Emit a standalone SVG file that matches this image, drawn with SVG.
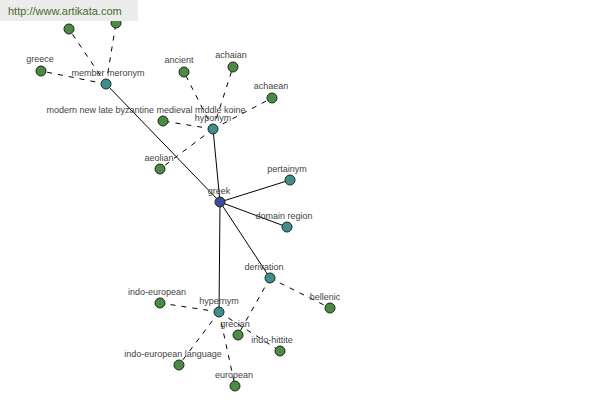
<svg xmlns="http://www.w3.org/2000/svg" width="600" height="400" viewBox="0 0 600 400">
<style>
.e{stroke:#000;stroke-width:1;fill:none}
.d{stroke:#000;stroke-width:1;fill:none;stroke-dasharray:5,6}
.n circle{stroke:#1a2a1a;stroke-width:1}
.g circle{fill:#4d8a45}
.t circle{fill:#3f8d8d}
.r circle{fill:#3c4c96}
text{font-family:"Liberation Sans",Arial,sans-serif;font-size:9px;fill:#444;text-anchor:middle}
</style>
<rect width="600" height="400" fill="#fff"/>
<g id="connectors">
<line class="e" x1="220" y1="202" x2="106" y2="84"/>
<line class="e" x1="220" y1="202" x2="213" y2="129"/>
<line class="e" x1="220" y1="202" x2="290" y2="180"/>
<line class="e" x1="220" y1="202" x2="287" y2="227"/>
<line class="e" x1="220" y1="202" x2="270" y2="278"/>
<line class="e" x1="220" y1="202" x2="219" y2="312"/>
<line class="d" x1="106" y1="84" x2="69" y2="29"/>
<line class="d" x1="106" y1="84" x2="116" y2="23"/>
<line class="d" x1="106" y1="84" x2="41" y2="71"/>
<line class="d" x1="213" y1="129" x2="184" y2="72"/>
<line class="d" x1="213" y1="129" x2="233" y2="67"/>
<line class="d" x1="213" y1="129" x2="272" y2="98"/>
<line class="d" x1="213" y1="129" x2="163" y2="121"/>
<line class="d" x1="213" y1="129" x2="160" y2="169"/>
<line class="d" x1="270" y1="278" x2="330" y2="308"/>
<line class="d" x1="270" y1="278" x2="238" y2="335"/>
<line class="d" x1="219" y1="312" x2="160" y2="303"/>
<line class="d" x1="219" y1="312" x2="280" y2="351"/>
<line class="d" x1="219" y1="312" x2="179" y2="365"/>
<line class="d" x1="219" y1="312" x2="235" y2="386"/>
</g>
<g id="n1" class="n g"><circle cx="69" cy="29" r="5"/></g>
<g id="n2" class="n g"><circle cx="116" cy="23" r="5"/></g>
<g id="greece" class="n g"><circle cx="41" cy="71" r="5"/><text x="40" y="62">greece</text></g>
<g id="ancient" class="n g"><circle cx="184" cy="72" r="5"/><text x="179" y="63">ancient</text></g>
<g id="achaian" class="n g"><circle cx="233" cy="67" r="5"/><text x="231" y="58">achaian</text></g>
<g id="achaean" class="n g"><circle cx="272" cy="98" r="5"/><text x="271" y="89">achaean</text></g>
<g id="modern" class="n g"><circle cx="163" cy="121" r="5"/><text x="146" y="113">modern new late byzantine medieval middle koine</text></g>
<g id="aeolian" class="n g"><circle cx="160" cy="169" r="5"/><text x="159" y="161">aeolian</text></g>
<g id="indo-european" class="n g"><circle cx="160" cy="303" r="5"/><text x="157" y="295">indo-european</text></g>
<g id="grecian" class="n g"><circle cx="238" cy="335" r="5"/><text x="235" y="327">grecian</text></g>
<g id="indo-hittite" class="n g"><circle cx="280" cy="351" r="5"/><text x="272" y="343">indo-hittite</text></g>
<g id="indo-european-language" class="n g"><circle cx="179" cy="365" r="5"/><text x="173" y="357">indo-european language</text></g>
<g id="european" class="n g"><circle cx="235" cy="386" r="5"/><text x="234" y="378">european</text></g>
<g id="hellenic" class="n g"><circle cx="330" cy="308" r="5"/><text x="325" y="300">hellenic</text></g>
<g id="member-meronym" class="n t"><circle cx="106" cy="84" r="5"/><text x="108" y="76">member meronym</text></g>
<g id="hyponym" class="n t"><circle cx="213" cy="129" r="5"/><text x="213" y="121">hyponym</text></g>
<g id="pertainym" class="n t"><circle cx="290" cy="180" r="5"/><text x="287" y="172">pertainym</text></g>
<g id="domain-region" class="n t"><circle cx="287" cy="227" r="5"/><text x="284" y="219">domain region</text></g>
<g id="derivation" class="n t"><circle cx="270" cy="278" r="5"/><text x="264" y="270">derivation</text></g>
<g id="hypernym" class="n t"><circle cx="219" cy="312" r="5"/><text x="219" y="304">hypernym</text></g>
<g id="greek" class="n r"><circle cx="220" cy="202" r="5"/><text x="219" y="194">greek</text></g>
<g id="banner"><rect x="0" y="0" width="138" height="21" fill="#ececec"/><text x="8" y="15" style="text-anchor:start;font-size:11px;fill:#4a6a2a">http://www.artikata.com</text></g>
</svg>
